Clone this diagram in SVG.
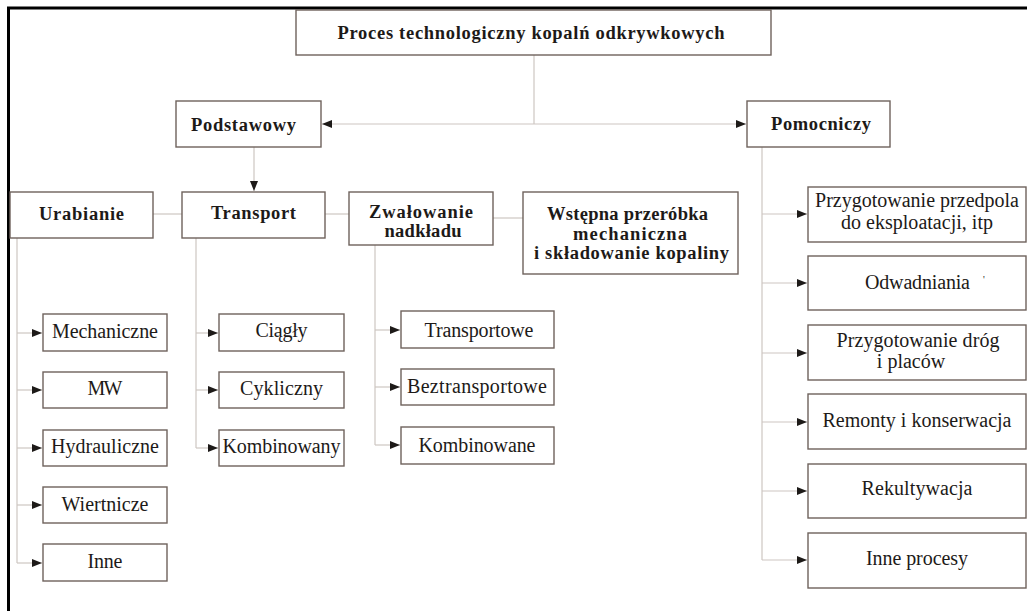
<svg xmlns="http://www.w3.org/2000/svg" width="1027" height="611" viewBox="0 0 1027 611">
<style>
.box{fill:#fff;stroke:#6e625c;stroke-width:1.4}
.conn{stroke:#cdc6c2;stroke-width:1.2;fill:none}
.frame{stroke:#000;stroke-width:3;fill:none}
text{font-family:"Liberation Serif","Times New Roman",serif;fill:#1d1a18;text-anchor:middle}
.b{font-weight:bold;font-size:18.5px}
.r{font-size:20px}
</style>
<defs>
<marker id="ah" markerUnits="userSpaceOnUse" markerWidth="11" markerHeight="9" refX="10" refY="4" orient="auto">
<path d="M0,0 L10,4 L0,8 z" fill="#1d1a18"/>
</marker>
</defs>
<rect width="1027" height="611" fill="#fff"/>
<path class="frame" d="M8.5,611 V8 H1027"/>

<g id="connectors">
<path class="conn" d="M534,55 V124"/>
<path class="conn" d="M534,124 H322" marker-end="url(#ah)"/>
<path class="conn" d="M534,124 H746" marker-end="url(#ah)"/>
<path class="conn" d="M254,147 V191" marker-end="url(#ah)"/>
<path class="conn" d="M153,214 H182"/>
<path class="conn" d="M325,214 H349"/>
<path class="conn" d="M493,218 H523"/>
<path class="conn" d="M17,238 V563"/>
<path class="conn" d="M17,333 H42" marker-end="url(#ah)"/>
<path class="conn" d="M17,390 H42" marker-end="url(#ah)"/>
<path class="conn" d="M17,448 H42" marker-end="url(#ah)"/>
<path class="conn" d="M17,505 H42" marker-end="url(#ah)"/>
<path class="conn" d="M17,563 H42" marker-end="url(#ah)"/>
<path class="conn" d="M196,238 V448"/>
<path class="conn" d="M196,333 H218" marker-end="url(#ah)"/>
<path class="conn" d="M196,390 H218" marker-end="url(#ah)"/>
<path class="conn" d="M196,448 H218" marker-end="url(#ah)"/>
<path class="conn" d="M375,245 V445"/>
<path class="conn" d="M375,330 H400" marker-end="url(#ah)"/>
<path class="conn" d="M375,387 H400" marker-end="url(#ah)"/>
<path class="conn" d="M375,445 H400" marker-end="url(#ah)"/>
<path class="conn" d="M762,147 V560"/>
<path class="conn" d="M762,214 H807" marker-end="url(#ah)"/>
<path class="conn" d="M762,283 H807" marker-end="url(#ah)"/>
<path class="conn" d="M762,353 H807" marker-end="url(#ah)"/>
<path class="conn" d="M762,422 H807" marker-end="url(#ah)"/>
<path class="conn" d="M762,491 H807" marker-end="url(#ah)"/>
<path class="conn" d="M762,560 H807" marker-end="url(#ah)"/>
</g>

<g id="title"><rect class="box" x="296" y="10" width="475" height="45"/><text class="b" x="531" y="39" textLength="387" lengthAdjust="spacing">Proces technologiczny kopalń odkrywkowych</text></g>
<g id="podstawowy"><rect class="box" x="176" y="101" width="145" height="46"/><text class="b" x="243.5" y="131" textLength="105" lengthAdjust="spacing">Podstawowy</text></g>
<g id="pomocniczy"><rect class="box" x="747" y="101" width="143" height="46"/><text class="b" x="821" y="130" textLength="100" lengthAdjust="spacing">Pomocniczy</text></g>

<g id="urabianie"><rect class="box" x="10" y="192" width="143" height="46"/><text class="b" x="81.5" y="220" textLength="85" lengthAdjust="spacing">Urabianie</text></g>
<g id="transport"><rect class="box" x="182" y="192" width="143" height="46"/><text class="b" x="253.5" y="219" textLength="85" lengthAdjust="spacing">Transport</text></g>
<g id="zwalowanie"><rect class="box" x="349" y="192" width="144" height="53"/><text class="b" x="421" y="218" textLength="104" lengthAdjust="spacing">Zwałowanie</text><text class="b" x="423" y="237" textLength="77" lengthAdjust="spacing">nadkładu</text></g>
<g id="wstepna"><rect class="box" x="523" y="192" width="215" height="82"/><text class="b" x="627.5" y="220" textLength="161" lengthAdjust="spacing">Wstępna przeróbka</text><text class="b" x="630" y="240" textLength="114" lengthAdjust="spacing">mechaniczna</text><text class="b" x="631.5" y="259" textLength="195" lengthAdjust="spacing">i składowanie kopaliny</text></g>

<g id="mechaniczne"><rect class="box" x="43" y="314" width="124" height="37"/><text class="r" x="105" y="338" textLength="106" lengthAdjust="spacing">Mechaniczne</text></g>
<g id="mw"><rect class="box" x="43" y="372" width="124" height="36"/><text class="r" x="105" y="395" textLength="35" lengthAdjust="spacing">MW</text></g>
<g id="hydrauliczne"><rect class="box" x="43" y="430" width="124" height="36"/><text class="r" x="105" y="453" textLength="108" lengthAdjust="spacing">Hydrauliczne</text></g>
<g id="wiertnicze"><rect class="box" x="43" y="487" width="124" height="36"/><text class="r" x="105" y="511" textLength="87" lengthAdjust="spacing">Wiertnicze</text></g>
<g id="inne"><rect class="box" x="43" y="544" width="124" height="37"/><text class="r" x="105" y="568" textLength="35" lengthAdjust="spacing">Inne</text></g>

<g id="ciagly"><rect class="box" x="219" y="314" width="125" height="37"/><text class="r" x="281.5" y="337" textLength="52" lengthAdjust="spacing">Ciągły</text></g>
<g id="cykliczny"><rect class="box" x="219" y="372" width="125" height="36"/><text class="r" x="281.5" y="395" textLength="83" lengthAdjust="spacing">Cykliczny</text></g>
<g id="kombinowany"><rect class="box" x="219" y="430" width="125" height="36"/><text class="r" x="281.5" y="453" textLength="118" lengthAdjust="spacing">Kombinowany</text></g>

<g id="transportowe"><rect class="box" x="401" y="311" width="153" height="37"/><text class="r" x="479" y="337" textLength="109" lengthAdjust="spacing">Transportowe</text></g>
<g id="beztransportowe"><rect class="box" x="401" y="369" width="153" height="36"/><text class="r" x="477" y="393" textLength="140" lengthAdjust="spacing">Beztransportowe</text></g>
<g id="kombinowane"><rect class="box" x="401" y="427" width="153" height="37"/><text class="r" x="477" y="452" textLength="117" lengthAdjust="spacing">Kombinowane</text></g>

<g id="przedpole"><rect class="box" x="808" y="187" width="218" height="55"/><text class="r" x="917" y="207" textLength="204" lengthAdjust="spacing">Przygotowanie przedpola</text><text class="r" x="917" y="229" textLength="152" lengthAdjust="spacing">do eksploatacji, itp</text></g>
<g id="odwadniania"><rect class="box" x="808" y="256" width="218" height="54"/><text class="r" x="917.5" y="289" textLength="105" lengthAdjust="spacing">Odwadniania</text><text style="font-size:10px" x="984" y="283">'</text></g>
<g id="drogi"><rect class="box" x="808" y="325" width="218" height="55"/><text class="r" x="918" y="347" textLength="163" lengthAdjust="spacing">Przygotowanie dróg</text><text class="r" x="911" y="368">i placów</text></g>
<g id="remonty"><rect class="box" x="808" y="394" width="218" height="55"/><text class="r" x="917" y="427" textLength="189" lengthAdjust="spacing">Remonty i konserwacja</text></g>
<g id="rekultywacja"><rect class="box" x="808" y="464" width="218" height="54"/><text class="r" x="917" y="495" textLength="111" lengthAdjust="spacing">Rekultywacja</text></g>
<g id="inneprocesy"><rect class="box" x="808" y="533" width="218" height="55"/><text class="r" x="917" y="565" textLength="102" lengthAdjust="spacing">Inne procesy</text></g>
</svg>
